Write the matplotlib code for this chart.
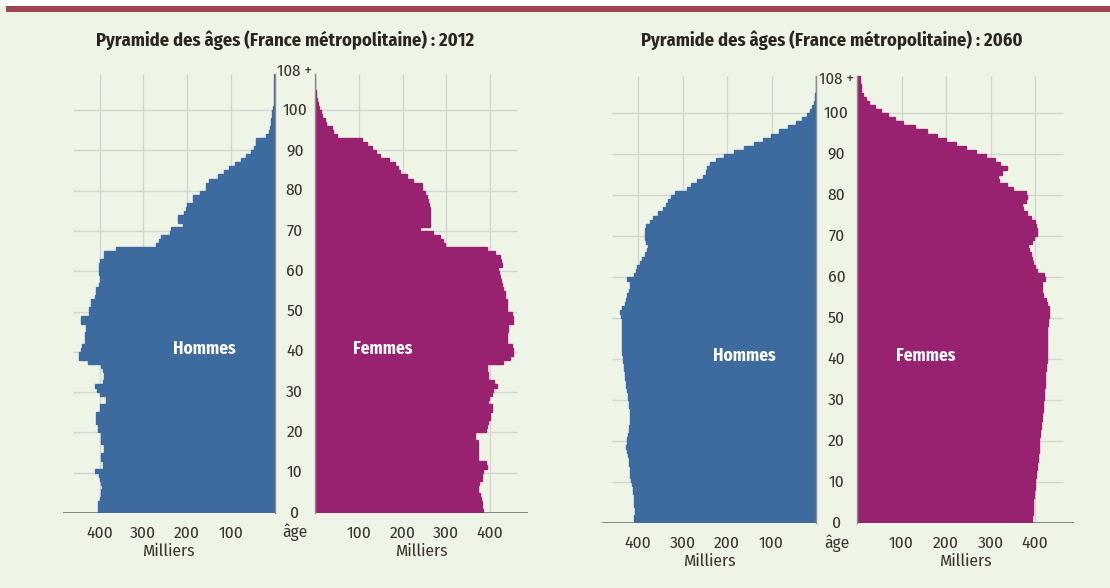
import numpy as np
import matplotlib
matplotlib.use('Agg')
import matplotlib.pyplot as plt
from matplotlib.patches import Rectangle

# ages 0 .. 108+ (one bar per year), values in thousands
ages = np.arange(0, 109)
age_ticks = [0, 10, 20, 30, 40, 50, 60, 70, 80, 90, 100]
pop_ticks = [100, 200, 300, 400]

hommes_2012 = [404, 404, 403, 398, 396, 396, 395, 396, 400, 401,
               411, 393, 392, 396, 396, 389, 389, 396, 396, 397,
               404, 404, 408, 408, 407, 400, 400, 386, 385, 400,
               405, 411, 392, 389, 389, 392, 396, 427, 447, 447,
               442, 440, 434, 434, 434, 430, 430, 442, 442, 423,
               423, 419, 419, 410, 408, 408, 402, 400, 400, 402,
               402, 401, 400, 389, 389, 362, 270, 265, 259, 240,
               236, 210, 221, 221, 208, 202, 200, 187, 187, 171,
               156, 156, 150, 130, 115, 103, 90, 76, 65, 53,
               47, 42, 42, 19, 13, 10, 8, 7, 6, 5,
               4, 2, 1, 0.5, 0.3, 0.2, 0.1, 0.1, 0.1]
femmes_2012 = [384, 381, 381, 380, 376, 373, 373, 374, 381, 381,
               383, 392, 390, 373, 373, 373, 372, 373, 366, 366,
               390, 392, 395, 400, 400, 404, 404, 396, 397, 404,
               406, 415, 410, 396, 396, 392, 392, 430, 445, 453,
               453, 450, 438, 438, 438, 442, 442, 453, 453, 450,
               438, 438, 438, 434, 434, 430, 427, 425, 423, 421,
               419, 427, 425, 423, 411, 392, 297, 292, 286, 270,
               240, 263, 263, 263, 263, 262, 261, 259, 255, 251,
               244, 244, 225, 210, 194, 190, 183, 168, 149, 140,
               130, 118, 107, 50, 42, 38, 25, 22, 16, 14,
               10, 7, 5, 3, 2, 1, 0.5, 0.3, 0.2]
hommes_2060 = [408, 408, 407, 407, 408, 408, 410, 411, 412, 414,
               416, 418, 418, 419, 420, 421, 423, 425, 426, 425,
               424, 422, 421, 420, 419, 418, 418, 419, 420, 421,
               422, 423, 425, 426, 427, 429, 430, 431, 432, 433,
               434, 435, 435, 436, 436, 436, 436, 436, 437, 437,
               438, 440, 436, 430, 426, 424, 420, 418, 418, 424,
               410, 405, 402, 396, 390, 384, 380, 377, 383, 384,
               385, 384, 381, 374, 366, 356, 343, 338, 333, 325,
               316, 291, 280, 268, 255, 248, 246, 238, 225, 207,
               185, 162, 140, 120, 102, 84, 64, 46, 32, 21,
               13, 8, 5, 3, 2, 1, 0.6, 0.3, 0.2]
femmes_2060 = [393, 394, 395, 395, 396, 396, 397, 398, 399, 400,
               401, 402, 403, 404, 405, 406, 407, 408, 408, 409,
               410, 411, 412, 413, 414, 415, 416, 417, 418, 419,
               420, 421, 421, 422, 422, 423, 423, 424, 425, 426,
               426, 427, 427, 427, 427, 428, 428, 428, 429, 430,
               431, 431, 431, 428, 424, 418, 416, 415, 416, 422,
               420, 405, 400, 396, 394, 392, 386, 385, 394, 398,
               404, 405, 402, 400, 390, 381, 372, 370, 380, 382,
               380, 351, 338, 320, 316, 325, 336, 322, 310, 290,
               268, 246, 222, 201, 180, 157, 130, 104, 85, 70,
               54, 40, 28, 20, 14, 10, 8, 7, 6]

BG = '#eef5e7'
BLUE = '#3d6a9f'
PINK = '#98226f'
GRID = '#d3d7d0'
TXT = '#3a3530'

plt.rcParams['font.family'] = ['Fira Sans Condensed', 'Roboto Condensed', 'DejaVu Sans']
plt.rcParams['font.stretch'] = 'condensed'

W, H = 1110, 588
fig = plt.figure(figsize=(W / 100, H / 100), dpi=100)
fig.patch.set_facecolor(BG)

# white band + maroon rule at the top
fig.add_artist(Rectangle((0, 1 - 6 / H), 1, 6 / H, transform=fig.transFigure,
                         facecolor='white', edgecolor='none'))
fig.add_artist(Rectangle((6 / W, 1 - 12 / H), 1, 6 / H, transform=fig.transFigure,
                         facecolor='#9e4452', edgecolor='none'))


def make_ax(x0, x1, ybot, ytop):
    return fig.add_axes([x0 / W, 1 - ybot / H, (x1 - x0) / W, (ybot - ytop) / H])


def pyramid(title, tx, hommes, femmes, m0, w0, s, y0, py, xl, xr, gl, gr, top_lab):
    ytop = y0 - 110 * py
    ax_h = make_ax(xl, m0, y0, ytop)
    ax_f = make_ax(w0, xr, y0, ytop)
    ax_h.set_xlim((m0 - xl) / s, 0)
    ax_f.set_xlim(0, (xr - w0) / s)

    for ax, vals, col, glim in [(ax_h, hommes, BLUE, (m0 - gl) / s),
                                (ax_f, femmes, PINK, (gr - w0) / s)]:
        ax.set_facecolor('none')
        ax.set_ylim(0, 110)
        ax.vlines(pop_ticks, 0, 109, color=GRID, lw=1, zorder=0)
        ax.hlines(age_ticks[1:], 0, glim, color=GRID, lw=1, zorder=0)
        ax.axhline(0, color='#7d7b78', lw=2, zorder=0.5)
        ax.barh(ages, vals, height=1, align='edge', color=col,
                edgecolor=col, lw=1, zorder=1)
        for sp in ax.spines.values():
            sp.set_visible(False)
        ax.set_yticks([])
        ax.set_xticks(pop_ticks)
        ax.set_xticklabels([str(t) for t in pop_ticks])
        ax.tick_params(axis='x', length=0, pad=9, labelsize=12.5, labelcolor=TXT)
        ax.set_xlabel('Milliers', fontsize=12.5, color=TXT, labelpad=1)

    # central column lines
    ax_h.plot([0, 0], [0, 109], color='#8c8c8c', lw=1, zorder=2, clip_on=False)
    ax_f.plot([0, 0], [0, 109], color='#8c8c8c', lw=1, zorder=2, clip_on=False)

    # age labels in the gap
    xc = -(w0 - m0) / 2 / s
    for a in age_ticks:
        ax_f.text(xc, a, str(a), ha='center', va='center', fontsize=12.5,
                  color=TXT, clip_on=False)
    ax_f.text(xc, top_lab, '108 +', ha='center', va='center', fontsize=12,
              color=TXT, clip_on=False)
    ax_f.text(xc, -4.9, 'âge', ha='center', va='center', fontsize=12.5,
              color=TXT, clip_on=False)

    ax_h.text(160, 40.8, 'Hommes', ha='center', va='center', color='white',
              fontsize=12.5, fontweight='bold')
    ax_f.text(155, 40.8, 'Femmes', ha='center', va='center', color='white',
              fontsize=12.5, fontweight='bold')

    fig.text(tx / W, 1 - 40 / H, title, ha='center', va='center', fontsize=13.3,
             fontweight='bold', color='#2a2622')


pyramid('Pyramide des âges (France métropolitaine) : 2012', 285,
        hommes_2012, femmes_2012,
        m0=274.5, w0=315, s=0.4375, y0=513, py=4.03, xl=63, xr=528, gl=73, gr=517,
        top_lab=109.6)
pyramid('Pyramide des âges (France métropolitaine) : 2060', 832,
        hommes_2060, femmes_2060,
        m0=816, w0=857, s=0.445, y0=523, py=4.1, xl=602, xr=1074, gl=612, gr=1063,
        top_lab=108.3)

fig.savefig('out.png', dpi=100, facecolor=fig.get_facecolor())
